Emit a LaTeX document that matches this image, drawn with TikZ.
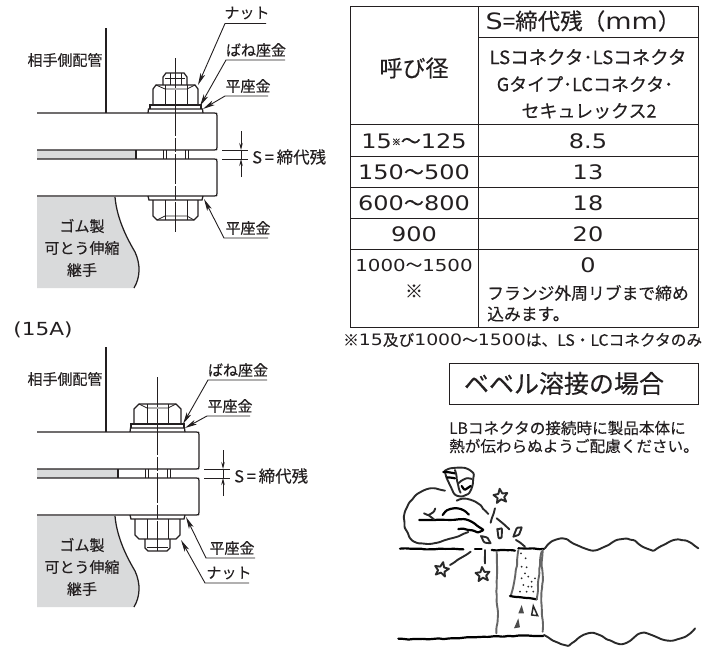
\documentclass[tikz,border=0pt]{standalone}
\usepackage{fontspec}
\setmainfont{Noto Sans CJK JP}[FakeBold=0.2]
\newfontfamily\cjkf{Noto Sans CJK JP}[FakeBold=0.2]
\newfontfamily\numf{DejaVu Sans}[FakeStretch=1.2]
\usetikzlibrary{arrows.meta,decorations.pathmorphing}
\definecolor{ink}{HTML}{231F20}
\definecolor{rub}{HTML}{D9DADB}
\definecolor{sketch}{HTML}{2A2A2A}
\newcommand{\fs}[1]{\fontsize{#1}{#1}\selectfont}
\newcommand{\wave}{{\cjkf ～}}
\tikzset{
 x=1pt,y=-1pt,
 thick line/.style={draw=ink,line width=1.25pt},
 thin line/.style={draw=ink,line width=.8pt},
 leader/.style={draw=ink,line width=.9pt,-{Stealth[length=12pt,width=5pt,inset=3pt]}},
 center line/.style={draw=ink,line width=.8pt,dash pattern=on 30pt off 2pt on 14pt off 2pt},
 lab/.style={inner sep=0pt,text=ink,font=\fs{15}},
 smalllab/.style={inner sep=0pt,text=ink,font=\fs{15}},
 cell/.style={inner sep=0pt,text=ink,anchor=center},
 hand/.style={decorate,decoration={random steps,segment length=5pt,amplitude=.5pt}},
 skline/.style={draw=sketch,line width=1.9pt,line cap=round,line join=round,rounded corners=1pt,hand},
 skblack/.style={draw=black,line width=2.2pt,line cap=round,line join=round,rounded corners=1pt,hand},
 skgray/.style={draw=gray!80!black,line width=1.9pt,line cap=round,line join=round,rounded corners=1pt,hand},
}
\newcommand{\flangeassy}[1]{%
 \begin{scope}[xshift=#1pt]
 \pgfmathtruncatemacro{\lx}{37-(#1)}
 \fill[rub] (\lx,150) rectangle (136,159);
 \draw[thick line] (\lx,113) -- (214,113) .. controls (217,113) and (217,113) .. (217,116) -- (217,147) .. controls (217,150) and (217,150) .. (214,150) -- (\lx,150);
 \draw[thick line] (\lx,159) -- (214,159) .. controls (217,159) and (217,159) .. (217,162) -- (217,193) .. controls (217,196) and (217,196) .. (214,196) -- (\lx,196);
 \draw[thick line] (136,150) -- (136,159);
 \foreach \bx in {163,166,185,188} {\draw[thin line] (\bx,150) -- (\bx,159);}
 \draw[thick line] (148,113) -- (148.5,109) -- (202.5,109) -- (203,113);
 \draw[thick line] (148,196) -- (149,200) -- (202,200) -- (203,196);
 \draw[center line] (175,58) -- (175,233);
 \coordinate (dimA) at (241,131);
 \coordinate (dimB) at (241,177);
 \coordinate (dimU) at (241,150);
 \coordinate (dimL) at (241,159);
 \draw[thin line] (222,150) -- (248,150);
 \draw[thin line] (222,159) -- (248,159);
 \draw[thin line,-{Stealth[length=7pt,width=3.5pt]}] (dimA) -- (dimU);
 \draw[thin line,-{Stealth[length=7pt,width=3.5pt]}] (dimB) -- (dimL);
 \draw[thin line] (dimU) -- (dimL);
 \node[lab,anchor=west,font=\fs{16.5}] (sdim) at (252,157) {S\,=\,締代残};
 \end{scope}
}
\newcommand{\commonparts}{%
 \fill[rub] (37,197) -- (115,197) .. controls (117,220) and (128,240) .. (135,252) .. controls (141,265) and (140,278) .. (134,288) -- (37,288) -- cycle;
 \draw[thick line] (115,197) .. controls (117,220) and (128,240) .. (135,252) .. controls (141,265) and (140,278) .. (134,288);
 \draw[thick line] (106,28) -- (106,113);
}
\begin{document}
\begin{tikzpicture}
\pgfmathsetseed{7}
\useasboundingbox (0,0) rectangle (703,646);
\commonparts
\flangeassy{0}
\draw[thick line] (163,85) -- (163,77) -- (166,73) -- (184,73) -- (187,77) -- (187,85);
\draw[thin line] (165,78) -- (185,78);
\draw[thin line] (170,73) -- (170,85);
\draw[thin line] (181,73) -- (181,85);
\draw[thick line] (153,105) -- (153,89) -- (156,85) -- (195,85) -- (198,89) -- (198,105);
\draw[thin line] (165,85) -- (165,105);
\draw[thin line] (187,85) -- (187,105);
\draw[thin line] (156,85) -- (165,89) -- (187,89) -- (195,85);
\draw[thick line] (150,109) -- (150,105) -- (201,105) -- (201,109);
\draw[thick line] (153,200) -- (153,216) -- (157,220) -- (194,220) -- (198,216) -- (198,200);
\draw[thin line] (165,200) -- (165,220);
\draw[thin line] (187,200) -- (187,220);
\draw[thin line] (157,220) -- (165,216) -- (187,216) -- (194,220);
\node[lab] (t1) at (65,60) {相手側配管};
\node[lab] (t2) at (82,226) {ゴム製};
\node[lab] (t3) at (82,248) {可とう伸縮};
\node[lab] (t4) at (82,270) {継手};
\node[smalllab] (nutA) at (247,13) {ナット};
\node[smalllab] (sprA) at (256,50) {ばね座金};
\node[smalllab] (flaA) at (248,86) {平座金};
\node[smalllab] (flbA) at (248,228) {平座金};
\coordinate (nutAe) at (198,85);
\coordinate (sprAe) at (200,106);
\coordinate (flaAe) at (203,109);
\coordinate (flbAe) at (204,199);
\draw[leader] (266,23.5) -- (225,23.5) -- (nutAe);
\draw[leader] (285,60) -- (226,60) -- (sprAe);
\draw[leader] (268,96) -- (225,96) -- (flaAe);
\draw[leader] (268,238) -- (224,238) -- (flbAe);
\node[lab,font=\fs{18}\numf] (sizeA) at (43,330) {(15A)};
\begin{scope}[yshift=-319pt]
\commonparts
\flangeassy{-18}
\draw[thick line] (134,104) -- (134,90) -- (139,85) -- (176,85) -- (181,90) -- (181,104);
\draw[thin line] (147,85) -- (147,104);
\draw[thin line] (168,85) -- (168,104);
\draw[thin line] (139,85) -- (147,89) -- (168,89) -- (176,85);
\draw[thick line] (131,109) -- (131,105) -- (184,105) -- (184,109);
\draw[thick line] (135,200) -- (135,216) -- (139,220) -- (176,220) -- (180,216) -- (180,200);
\draw[thin line] (147,200) -- (147,220);
\draw[thin line] (168,200) -- (168,220);
\draw[thick line] (145,220) -- (145,229) -- (148,232) -- (167,232) -- (170,229) -- (170,220);
\draw[thin line] (147,228) -- (168,228);
\node[lab] (t5) at (65,60) {相手側配管};
\node[lab] (t6) at (82,226) {ゴム製};
\node[lab] (t7) at (82,248) {可とう伸縮};
\node[lab] (t8) at (82,270) {継手};
\node[smalllab] (sprB) at (238,51) {ばね座金};
\node[smalllab] (flaB) at (230,87) {平座金};
\node[smalllab] (flbB) at (232,229) {平座金};
\node[smalllab] (nutB) at (229,254) {ナット};
\coordinate (sprBe) at (183,105);
\coordinate (flaBe) at (185,109);
\coordinate (flbBe) at (186,198);
\coordinate (nutBe) at (181,221);
\draw[leader] (267,61) -- (208,61) -- (sprBe);
\draw[leader] (250,97) -- (207,97) -- (flaBe);
\draw[leader] (255,239) -- (206,239) -- (flbBe);
\draw[leader] (249,264) -- (205,264) -- (nutBe);
\end{scope}
\begin{scope}[line width=1pt,ink]
\draw (350,6) rectangle (698,327);
\draw (478,6) -- (478,327);
\draw (478,37) -- (698,37);
\draw (350,124) -- (698,124);
\draw (350,156) -- (698,156);
\draw (350,187) -- (698,187);
\draw (350,218) -- (698,218);
\draw (350,249) -- (698,249);
\end{scope}
\node[cell,font=\fs{23}] (h1) at (414,68) {呼び径};
\node[cell,font=\fs{22.5}] (h2) at (583,21) {{\numf S}=締代残（{\numf mm}）};
\node[cell,font=\fs{18.5}] (h3) at (588,57) {LSコネクタ･LSコネクタ};
\node[cell,font=\fs{18}] (h4) at (585,84) {Gタイプ･LCコネクタ･};
\node[cell,font=\fs{18}] (h5) at (589,111) {セキュレックス2};
\node[cell,font=\fs{20}\numf] (r1) at (414,141) {15\raisebox{3pt}{\cjkf\fs{9}※}\wave 125};
\node[cell,font=\fs{20}\numf] (r2) at (414,172) {150\wave 500};
\node[cell,font=\fs{20}\numf] (r3) at (414,203) {600\wave 800};
\node[cell,font=\fs{20}\numf] (r4) at (414,234) {900};
\node[cell,font=\fs{16.5}\numf] (r5) at (414,265) {1000\wave 1500};
\node[cell,font=\fs{18}] (r6) at (414,291) {※};
\node[cell,font=\fs{20}\numf] (s1) at (588,141) {8.5};
\node[cell,font=\fs{20}\numf] (s2) at (588,172) {13};
\node[cell,font=\fs{20}\numf] (s3) at (588,203) {18};
\node[cell,font=\fs{20}\numf] (s4) at (588,234) {20};
\node[cell,font=\fs{20}\numf] (s5) at (588,265) {0};
\node[cell,anchor=west,font=\fs{16.8}] (n1) at (487,293) {フランジ外周リブまで締め};
\node[cell,anchor=west,font=\fs{16.8}] (n2) at (487,314) {込みます。};
\node[cell,anchor=west,font=\fs{15.7}] (foot) at (343,340) {※{\numf 15}及び{\numf 1000}～{\numf 1500}は、LS・LCコネクタのみ};
\node[draw=ink,line width=1pt,minimum width=249pt,minimum height=41pt,inner sep=0pt,text=ink,font=\fs{25}] (bevel) at (573.5,383.5) {\hspace*{-19pt}ベベル溶接の場合};
\node[cell,anchor=west,font=\fs{15.6}] (w1) at (449,428) {LBコネクタの接続時に製品本体に};
\node[cell,anchor=west,font=\fs{15.6}] (w2) at (449,446) {熱が伝わらぬようご配慮ください。};
\begin{scope}[shift={(390,450)},x=.3333pt,y=-.3333pt]
\draw[skline] (165,62) .. controls (190,50) and (225,50) .. (250,70) .. controls (250,95) and (245,120) .. (232,132) .. controls (215,140) and (200,138) .. (190,125) .. controls (180,105) and (170,85) .. (165,62);
\draw[skblack] (160,66) -- (195,70);
\draw[skblack] (172,82) -- (195,85);
\draw[skline] (195,60) .. controls (200,85) and (205,110) .. (212,128);
\draw[skline] (205,100) .. controls (220,88) and (235,85) .. (245,90);
\draw[skblack] (215,108) .. controls (222,118) and (232,115) .. (238,102);
\draw[skline] (165,122) .. controls (130,112) and (95,115) .. (70,145) .. controls (45,170) and (35,210) .. (52,245) .. controls (60,272) and (90,285) .. (130,280) .. controls (170,272) and (195,262) .. (235,246);
\draw[skline] (200,152) .. controls (225,140) and (255,150) .. (275,172) -- (295,192);
\draw[skblack] (88,210) -- (205,208) .. controls (235,208) and (260,225) .. (280,240) .. controls (265,248) and (235,235) .. (205,238);
\draw[skblack] (158,195) .. controls (175,170) and (215,170) .. (235,195);
\draw[skline] (102,190) .. controls (115,195) and (125,190) .. (135,175);
\draw[skline] (115,195) -- (132,208);
\draw[skline] (315,175) -- (302,218);
\draw[skline] (320,205) -- (358,238);
\draw[skline] (378,270) -- (405,290);
\draw[skline] (242,305) -- (180,345);
\draw[skline] (285,300) -- (285,340);
\draw[skline] (322,238) -- (335,235) -- (335,262) -- (327,265) -- cycle;
\draw[skline] (370,260) -- (380,235) -- (395,232) -- (388,252) -- cycle;
\draw[skline] (273,258) -- (290,262) -- (302,280) -- (285,278) -- cycle;
\foreach \sx/\sy/\rot in {332/138/8, 155/358/-12, 278/373/5} {
 \draw[draw=sketch,line width=1.9pt,line join=round,rotate around={\rot:(\sx,\sy)}] (\sx,\sy-22) -- (\sx+6,\sy-7) -- (\sx+21,\sy-6) -- (\sx+10,\sy+5) -- (\sx+14,\sy+19) -- (\sx,\sy+10) -- (\sx-14,\sy+19) -- (\sx-10,\sy+5) -- (\sx-21,\sy-6) -- (\sx-6,\sy-7) -- cycle;
}
\draw[skblack] (30,296) -- (220,298);
\draw[skblack] (255,298) -- (275,298);
\draw[skblack] (305,300) -- (375,302);
\draw[skblack] (385,295) -- (462,297);
\draw[skblack] (25,566) .. controls (150,572) and (300,555) .. (460,558);
\draw[skline] (465,295) .. controls (480,272) and (510,262) .. (535,272) .. controls (560,285) and (590,305) .. (625,298) .. controls (655,288) and (680,262) .. (715,268) .. controls (745,275) and (765,302) .. (795,298) .. controls (820,285) and (845,268) .. (870,270) .. controls (895,272) and (910,285) .. (925,295);
\draw[skline] (462,555) .. controls (490,570) and (510,590) .. (540,582) .. controls (565,565) and (590,545) .. (620,552) .. controls (650,565) and (675,585) .. (705,580) .. controls (725,570) and (745,545) .. (770,550) .. controls (800,560) and (825,578) .. (855,570) .. controls (880,565) and (900,552) .. (915,535);
\draw[skgray] (320,305) .. controls (325,360) and (315,420) .. (322,470) .. controls (325,500) and (318,530) .. (320,550);
\draw[skgray] (458,300) .. controls (452,350) and (462,380) .. (455,420) .. controls (450,470) and (462,510) .. (457,545);
\draw[skgray] (385,300) .. controls (382,350) and (372,395) .. (362,438);
\draw[skblack] (360,438) -- (440,448);
\draw[skgray] (440,448) .. controls (445,400) and (448,350) .. (455,305);
\foreach \dx/\dy in {393/310,407/325,395/350,410/352,405/370,395/385,415/380,425/395,400/405,415/410,430/425,390/425,410/425,425/410,435/385} {\fill[sketch] (\dx,\dy) circle (3);}
\fill[gray!60!black] (395,465) -- (402,490) -- (385,490) -- cycle;
\draw[draw=sketch,line width=1.5pt] (430,468) -- (443,497) -- (425,495) -- cycle;
\fill[gray!60!black] (385,505) -- (390,532) -- (372,535) -- cycle;
\end{scope}
\end{tikzpicture}
\end{document}
